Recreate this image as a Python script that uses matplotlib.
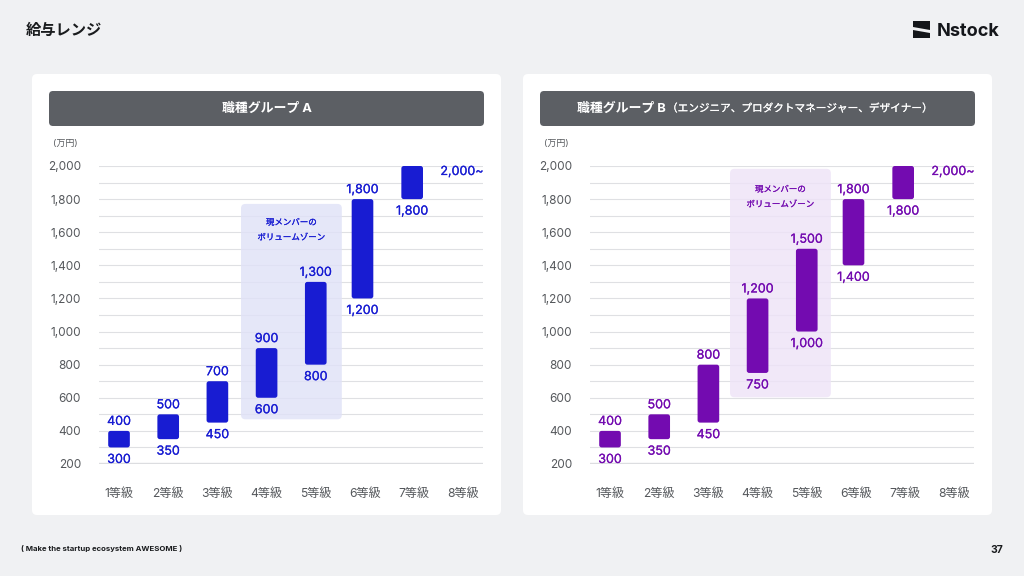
import matplotlib
matplotlib.use("Agg")
import matplotlib.pyplot as plt
import matplotlib.patheffects as pe
from matplotlib.patches import FancyBboxPatch, Polygon, Rectangle

plt.rcParams['font.family'] = ['Inter', 'Noto Sans CJK JP', 'DejaVu Sans']

W, H = 1024, 576
BG = '#f0f1f3'
GRID = '#dfe0e3'
GRAY = '#55585c'
HEAD = '#5c5f64'

grades = ['1等級', '2等級', '3等級', '4等級', '5等級', '6等級', '7等級', '8等級']
y_ticks = [200, 400, 600, 800, 1000, 1200, 1400, 1600, 1800, 2000]
y_minor = [300, 500, 700, 900, 1100, 1300, 1500, 1700, 1900]

# group A
low_a = [300, 350, 450, 600, 800, 1200, 1800]
high_a = [400, 500, 700, 900, 1300, 1800, 2000]
zone_a = [1771, 470]
# group B
low_b = [300, 350, 450, 750, 1000, 1400, 1800]
high_b = [400, 500, 800, 1200, 1500, 1800, 2000]
zone_b = [1983, 603]

top_label = '2,000~'
zone_text = '現メンバーの\nボリュームゾーン'
head_a = '職種グループ A'
head_b = '職種グループ B'
sub_b = '（エンジニア、プロダクトマネージャー、デザイナー）'

# bars 6 and 7 sit a bit left of their tick labels in the original
nudge = [0, 0, 0, 0, 0, -0.05, -0.04]

fig = plt.figure(figsize=(W / 100, H / 100), dpi=100, facecolor=BG)
bg = fig.add_axes([0, 0, 1, 1])
bg.set_xlim(0, W)
bg.set_ylim(H, 0)
bg.axis('off')


def px_offset(v):
    return v * 0.72


# regular weight with a thin outline, reads as medium
def medium(color):
    return [pe.withStroke(linewidth=0.15, foreground=color)]


def panel(x0, low, high, zone, color, zone_color, zone_x, zone_y):
    # card + header
    bg.add_patch(FancyBboxPatch((x0, 74), 469, 441, boxstyle='round,pad=0,rounding_size=5',
                                fc='white', ec='none'))
    bg.add_patch(FancyBboxPatch((x0 + 17, 91), 435, 35, boxstyle='round,pad=0,rounding_size=4',
                                fc=HEAD, ec='none'))
    bg.text(x0 + 33.5, 143, '(万円)', color=GRAY, fontsize=6.5, ha='center', va='center')

    ax = fig.add_axes([(x0 + 67) / W, 1 - 464 / H, 384 / W, 298 / H])
    ax.set_xlim(-0.407, 7.4)
    ax.set_ylim(200, 2000)
    ax.patch.set_alpha(0)
    for s in ax.spines.values():
        s.set_visible(False)

    ax.set_yticks(y_ticks)
    ax.set_yticks(y_minor, minor=True)
    ax.set_xticks(range(len(grades)))
    ax.set_xticklabels(grades)
    ax.tick_params(axis='both', which='both', length=0)
    ax.tick_params(axis='y', labelsize=8.5, labelcolor=GRAY, pad=13)
    ax.tick_params(axis='x', labelsize=8.7, labelcolor=GRAY, pad=17)
    ax.yaxis.set_major_formatter(lambda v, pos: f'{int(v):,}')
    ax.grid(True, axis='y', which='both', color=GRID, lw=0.8)
    ax.set_axisbelow(True)
    ax.axhline(200, color='#dcdde0', lw=1.7, zorder=1)

    # aspect of data units, so the rounded corners stay round
    aspect = (1800 / 298) / (7.807 / 384)

    ax.add_patch(FancyBboxPatch((zone_x, zone[1]), 2.05, zone[0] - zone[1],
                                boxstyle='round,pad=0,rounding_size=0.09', mutation_aspect=aspect,
                                fc=zone_color, ec='none', alpha=0.82, zorder=2, clip_on=False))
    ax.annotate(zone_text, (zone_x + 1.025, zone[0]), xytext=(0, px_offset(-zone_y)), textcoords='offset points',
                ha='center', va='center', color=color, fontsize=6.1,
                linespacing=1.85, zorder=5, path_effects=medium(color))

    label = dict(textcoords='offset points', ha='center', va='center', color=color,
                 fontsize=9, zorder=5, path_effects=medium(color))
    for i in range(len(low)):
        xc = i + nudge[i]
        ax.add_patch(FancyBboxPatch((xc - 0.22, low[i]), 0.44, high[i] - low[i],
                                    boxstyle='round,pad=0,rounding_size=0.05', mutation_aspect=aspect,
                                    fc=color, ec='none', zorder=3, clip_on=False))
        if i < 6:
            ax.annotate(f'{high[i]:,}', (xc, high[i]), xytext=(0, px_offset(9)), **label)
        ax.annotate(f'{low[i]:,}', (xc, low[i]), xytext=(0, px_offset(-12.5)), **label)
    ax.annotate(top_label, (7, 2000), xytext=(-1, px_offset(-6)), **label)


panel(32, low_a, high_a, zone_a, '#181cd2', '#e0e2f7', 2.48, 26)
panel(523, low_b, high_b, zone_b, '#730bb0', '#eee3f7', 2.44, 28)

# header titles
bg.text(266.5, 109, head_a, color='white', fontsize=9.3, fontweight='bold', ha='center', va='center')
bg.text(666, 109, head_b, color='white', fontsize=9.3, fontweight='bold', ha='right', va='center')
bg.text(667, 108.5, sub_b, color='white', fontsize=7.65, ha='left', va='center',
        path_effects=medium('white'))

# page furniture
bg.text(26, 30, '給与レンジ', color='#1a1c1e', fontsize=11, fontweight='bold', ha='left', va='center')
bg.text(21, 549, '( Make the startup ecosystem AWESOME )', color='#1a1c1e', fontsize=5.6,
        fontweight='bold', ha='left', va='center')
bg.text(1003, 550, '37', color='#1a1c1e', fontsize=7.5, fontweight='bold', ha='right', va='center')

# logo
bg.add_patch(Rectangle((913, 21), 17, 17, fc='#14161a', ec='none'))
bg.add_patch(Polygon([(913, 27), (930, 30), (930, 33), (913, 30)], fc=BG, ec='none'))
bg.text(936.5, 31, 'Nstock', color='#14161a', fontsize=13, fontweight='bold', ha='left', va='center')

fig.savefig('out.png', dpi=100, facecolor=BG)
